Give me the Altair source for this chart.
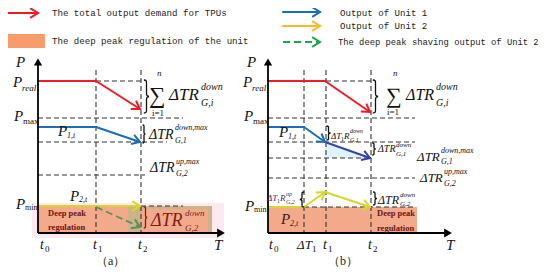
import math
import altair as alt
import pandas as pd

# ---------------- colours ----------------
RED = "#F01C24"
BLUE = "#1C6EB4"
DBLUE = "#3543A8"
YEL = "#D9D52E"
LYEL = "#F8B92A"
GREEN = "#5E8E5A"
LGREEN = "#1FA64A"
SALMON = "#F2AA8B"
DARKRED = "#7A1E1E"
GRAY = "#333333"
INK = "#111111"
PURP = "#4A3060"

# ---------------- diagram data (reference units) ----------------
red_a = [(38, 81), (96, 81), (140, 109)]
blue_a = [(38, 127), (96, 127), (140, 142)]
yellow_a = [(38, 206), (140, 206)]
green_a = [(96, 207), (140, 227)]
red_b = [(268, 81), (325, 81), (370, 112)]
blue_b = [(268, 127), (304, 127), (325, 142)]
blue2_b = [(325, 142), (370, 158)]
yellow_b1 = [(268, 207), (304, 207), (325, 192)]
yellow_b2 = [(325, 192), (370, 207)]

leg_red = [(5, 13), (38, 13)]
leg_blue = [(283, 12), (320, 12)]
leg_yel = [(283, 26), (320, 26)]
leg_green = [(283, 42), (320, 42)]

legend_labels = [
    ("The total output demand for TPUs", 52, 13, 9.1),
    ("The deep peak regulation of the unit", 52, 41, 9.1),
    ("Output of Unit 1", 340, 12.5, 9.1),
    ("Output of Unit 2", 340, 26, 9.1),
    ("The deep peak shaving output of Unit 2", 338, 42, 8.8),
]

dashed = [
    (96, 70, 96, 233), (141, 70, 141, 233),
    (96, 81, 141, 81), (38, 118, 183, 118), (38, 142, 167, 142),
    (38, 175, 145, 175), (141, 206, 183, 206),
    (304, 70, 304, 233), (326, 70, 326, 233), (371, 70, 371, 233),
    (326, 81, 371, 81), (268, 118, 415, 118), (268, 142, 415, 142),
    (268, 158, 370, 158), (268, 178, 415, 178), (304, 207, 415, 207),
]

rects = [
    (3, 45, 34, 48, "#F99C6C"),
    (32, 224, 203, 238, "#FCEAF0"),
    (38, 212, 206, 233, SALMON),
    (128, 212, 206, 233, "#CDB38A"),
    (141, 208, 209, 233, SALMON),
    (268, 417, 207, 233, SALMON),
]

axes_lines = [(38, 233, 38, 62), (38, 233, 219, 233), (268, 233, 268, 62), (268, 233, 446, 233)]
axes_heads = [(38, 62, "triangle-up"), (221, 233, "triangle-right"),
              (268, 62, "triangle-up"), (448, 233, "triangle-right")]

# braces: centre x, centre y, height, colour, facing angle (0 = "}", 180 = "{")
tall_braces = [
    (146.5, 96.5, 33, INK, 0), (144, 134, 18, INK, 0), (145.5, 217.5, 21, DARKRED, 0),
    (375.5, 96.5, 33, INK, 0),
]
short_braces = [
    (328.5, 133, 14, INK, 0), (374, 149, 12, INK, 0),
    (302, 199.5, 15, INK, 180), (375, 198.5, 13, INK, 0),
]

italic_txt = [
    ("P", 16, 62, 15, INK), ("P", 13, 82, 15, INK), ("real", 22, 88, 9, INK),
    ("P", 14, 116, 15, INK), ("P", 16, 204, 15, INK),
    ("P", 58, 131, 15, INK), ("1,t", 67, 136, 8, INK),
    ("P", 70, 196, 15, INK), ("2,t", 79, 200, 8, INK),
    ("t", 40, 245, 14, INK), ("t", 93, 245, 14, INK), ("t", 138, 245, 14, INK), ("T", 214, 245, 15, INK),
    ("n", 157, 73, 9, INK),
    ("ΔTR", 169, 95, 17, INK), ("down", 201, 87, 10, INK), ("G,i", 201, 103, 10, INK),
    ("ΔTR", 149, 135, 14, INK), ("down,max", 175, 128, 8, INK), ("G,1", 175, 141, 8, INK),
    ("ΔTR", 150, 168, 14, INK), ("up,max", 176, 162, 8, INK), ("G,2", 176, 174, 8, INK),
    ("ΔTR", 151, 221, 18, DARKRED), ("down", 185, 213, 9, DARKRED), ("G,2", 185, 228, 9, DARKRED),
    # panel b
    ("P", 247, 62, 15, INK), ("P", 243, 82, 15, INK), ("real", 252, 88, 9, INK),
    ("P", 244, 116, 15, INK), ("P", 245, 206, 15, INK),
    ("P", 279, 132, 15, INK), ("1,t", 288, 137, 8, INK),
    ("P", 281, 219, 15, "#3A1A1A"), ("2,t", 290, 224, 8, "#3A1A1A"),
    ("t", 269, 245, 14, INK), ("ΔT", 297, 245, 13, INK), ("t", 323, 245, 14, INK),
    ("t", 368, 245, 14, INK), ("T", 446, 245, 15, INK),
    ("n", 393, 73, 9, INK), ("ΔTR", 406, 95, 16, INK), ("down", 436, 87, 10, INK), ("G,i", 436, 103, 10, INK),
    ("ΔT", 331, 136, 9, INK), ("R", 344, 136, 9, INK), ("down", 350, 131, 6, INK), ("G,1", 350, 140, 6, INK),
    ("ΔTR", 378, 149, 10, INK), ("down", 396, 145, 7, INK), ("G,1", 396, 154, 7, INK),
    ("ΔTR", 417, 157, 13, INK), ("down,max", 441, 151, 8, INK), ("G,1", 441, 162, 8, INK),
    ("ΔTR", 420, 178, 13, INK), ("up,max", 444, 172, 8, INK), ("G,2", 444, 184, 8, INK),
    ("ΔT", 267, 198, 9, PURP), ("R", 280, 198, 9, PURP),
    ("up", 286, 194, 6, PURP), ("G,2", 286, 202, 6, PURP),
    ("ΔTR", 378, 200, 12, INK), ("down", 400, 195, 7, INK), ("G,2", 400, 204, 7, INK),
]
regular_txt = [
    ("max", 23, 121, 9, INK), ("min", 25, 208, 8, INK),
    ("0", 45, 249, 9, INK), ("1", 98, 249, 9, INK), ("2", 143, 249, 9, INK),
    ("∑", 149, 96, 23, INK), ("i=1", 152, 113, 9, INK),
    ("（a）", 96, 261, 12, "#222222"),
    ("max", 253, 121, 9, INK), ("min", 254, 210, 8, INK),
    ("0", 274, 249, 9, INK), ("1", 312, 249, 9, INK), ("1", 328, 249, 9, INK), ("2", 373, 249, 9, INK),
    ("∑", 386, 96, 22, INK), ("i=1", 387, 112, 9, INK),
    ("1", 341, 139, 6, INK), ("1", 277, 201, 6, PURP),
    ("（b）", 328, 261, 12, "#222222"),
]
bold_txt = [
    ("Deep peak", 48, 213, 8.5, "#6E1414"), ("regulation", 48, 227, 8.5, "#6E1414"),
    ("Deep peak", 377, 213, 8.5, "#6E1414"), ("regulation", 377, 228, 8.5, "#6E1414"),
]

# ---------------- build tables ----------------
solid_rows, arrow_rows = [], []


def add_poly(pts, color, width, head=True, rows=None):
    rows = solid_rows if rows is None else rows
    for (x1, y1), (x2, y2) in zip(pts[:-1], pts[1:]):
        rows.append(dict(x=x1, y=y1, x2=x2, y2=y2, c=color, w=width))
    if head:
        (x1, y1), (x2, y2) = pts[-2], pts[-1]
        ang = math.degrees(math.atan2(y2 - y1, x2 - x1)) % 360
        arrow_rows.append(dict(x=x2, y=y2, c=color, a=ang))


add_poly(red_a, RED, 2)
add_poly(blue_a, BLUE, 2)
add_poly(yellow_a, YEL, 2)
add_poly(red_b, RED, 2)
add_poly(blue_b, BLUE, 2)
add_poly(blue2_b, DBLUE, 2)
add_poly(yellow_b1, YEL, 2)
add_poly(yellow_b2, YEL, 2)
add_poly(leg_red, RED, 2)
add_poly(leg_blue, BLUE, 2)
add_poly(leg_yel, LYEL, 2)

green_rows = []
add_poly(green_a, GREEN, 1.8, rows=green_rows)
add_poly(leg_green, LGREEN, 2, rows=green_rows)

solid_df = pd.DataFrame(solid_rows)
green_df = pd.DataFrame(green_rows)
arrow_df = pd.DataFrame(arrow_rows)
dash_df = pd.DataFrame(dashed, columns=["x", "y", "x2", "y2"])
rect_df = pd.DataFrame(rects, columns=["x", "x2", "y", "y2", "c"])
axis_df = pd.DataFrame(axes_lines, columns=["x", "y", "x2", "y2"])
head_df = pd.DataFrame(axes_heads, columns=["x", "y", "shape"])
bcols = ["x", "y", "h", "c", "a"]
tall_df = pd.DataFrame(tall_braces, columns=bcols)
short_df = pd.DataFrame(short_braces, columns=bcols)
tall_df["s"] = tall_df["h"] ** 2
short_df["s"] = short_df["h"] ** 2
cols = ["t", "x", "y", "s", "c"]
it_df = pd.DataFrame(italic_txt, columns=cols)
rg_df = pd.DataFrame(regular_txt, columns=cols)
bd_df = pd.DataFrame(bold_txt, columns=cols)
lg_df = pd.DataFrame([(t, x, y, s, "#222222") for t, x, y, s in legend_labels], columns=cols)
cyan_df = pd.DataFrame({"x": [325, 370], "y": [142, 158], "y2": [158, 158]})

XS = alt.Scale(domain=[8, 542], nice=False, zero=False)
YS = alt.Scale(domain=[8, 268], nice=False, zero=False, reverse=True)
X = alt.X("x:Q", scale=XS, axis=None)
Y = alt.Y("y:Q", scale=YS, axis=None)
C = alt.Color("c:N", scale=None)

rect_layer = alt.Chart(rect_df).mark_rect().encode(x=X, x2="x2:Q", y=Y, y2="y2:Q", color=C)
cyan_layer = alt.Chart(cyan_df).mark_area(color="#DDF2FA", opacity=0.9).encode(x=X, y=Y, y2="y2:Q")
dash_layer = alt.Chart(dash_df).mark_rule(color=GRAY, strokeWidth=1.1, strokeDash=[5, 3]).encode(
    x=X, y=Y, x2="x2:Q", y2="y2:Q")
solid_layer = alt.Chart(solid_df).mark_rule(strokeCap="round").encode(
    x=X, y=Y, x2="x2:Q", y2="y2:Q", color=C, strokeWidth=alt.StrokeWidth("w:Q", scale=None))
green_layer = alt.Chart(green_df).mark_rule(strokeDash=[7, 4]).encode(
    x=X, y=Y, x2="x2:Q", y2="y2:Q", color=C, strokeWidth=alt.StrokeWidth("w:Q", scale=None))
arrow_layer = alt.Chart(arrow_df).mark_point(
    shape="M-1.2,-0.75L0,0L-1.2,0.75", filled=False, size=169, strokeWidth=2, opacity=1,
    strokeJoin="miter").encode(x=X, y=Y, color=C, angle=alt.Angle("a:Q", scale=None))
axis_layer = alt.Chart(axis_df).mark_rule(color="#000000", strokeWidth=1.8).encode(
    x=X, y=Y, x2="x2:Q", y2="y2:Q")
up_layer = alt.Chart(head_df[head_df["shape"] == "triangle-up"]).mark_point(
    shape="triangle-up", filled=True, size=70, color="#000000", opacity=1).encode(x=X, y=Y)
right_layer = alt.Chart(head_df[head_df["shape"] == "triangle-right"]).mark_point(
    shape="triangle-right", filled=True, size=80, color="#000000", opacity=1).encode(x=X, y=Y)

TALL_BRACE = ("M-0.16,-1 C0.02,-1 0,-0.92 0,-0.75 L0,-0.18 C0,-0.05 0.06,0 0.16,0 "
              "C0.06,0 0,0.05 0,0.18 L0,0.75 C0,0.92 0.02,1 -0.16,1")
SHORT_BRACE = ("M-0.3,-1 C0.02,-1 0,-0.9 0,-0.7 L0,-0.22 C0,-0.06 0.12,0 0.3,0 "
               "C0.12,0 0,0.06 0,0.22 L0,0.7 C0,0.9 0.02,1 -0.3,1")


def brace_layer(df, path):
    return alt.Chart(df).mark_point(shape=path, filled=False, strokeWidth=1.3, opacity=1).encode(
        x=X, y=Y, color=C, size=alt.Size("s:Q", scale=None), angle=alt.Angle("a:Q", scale=None))


def text_layer(df, **kw):
    return alt.Chart(df).mark_text(align="left", baseline="middle", **kw).encode(
        x=X, y=Y, text="t:N", size=alt.Size("s:Q", scale=None), color=C)


it_layer = text_layer(it_df, font="Liberation Serif", fontStyle="italic")
rg_layer = text_layer(rg_df, font="Liberation Serif")
bd_layer = text_layer(bd_df, font="Liberation Serif", fontWeight="bold")
lg_layer = text_layer(lg_df, font="Liberation Mono")

chart = alt.layer(
    rect_layer, cyan_layer, dash_layer, solid_layer, green_layer, arrow_layer,
    axis_layer, up_layer, right_layer,
    brace_layer(tall_df, TALL_BRACE), brace_layer(short_df, SHORT_BRACE),
    it_layer, rg_layer, bd_layer, lg_layer,
).properties(
    width=534, height=260, padding=0, background="white",
    autosize=alt.AutoSizeParams(type="none"),
).configure_view(stroke=None)

chart.save("out.html", embed_options={"renderer": "svg", "actions": False})
